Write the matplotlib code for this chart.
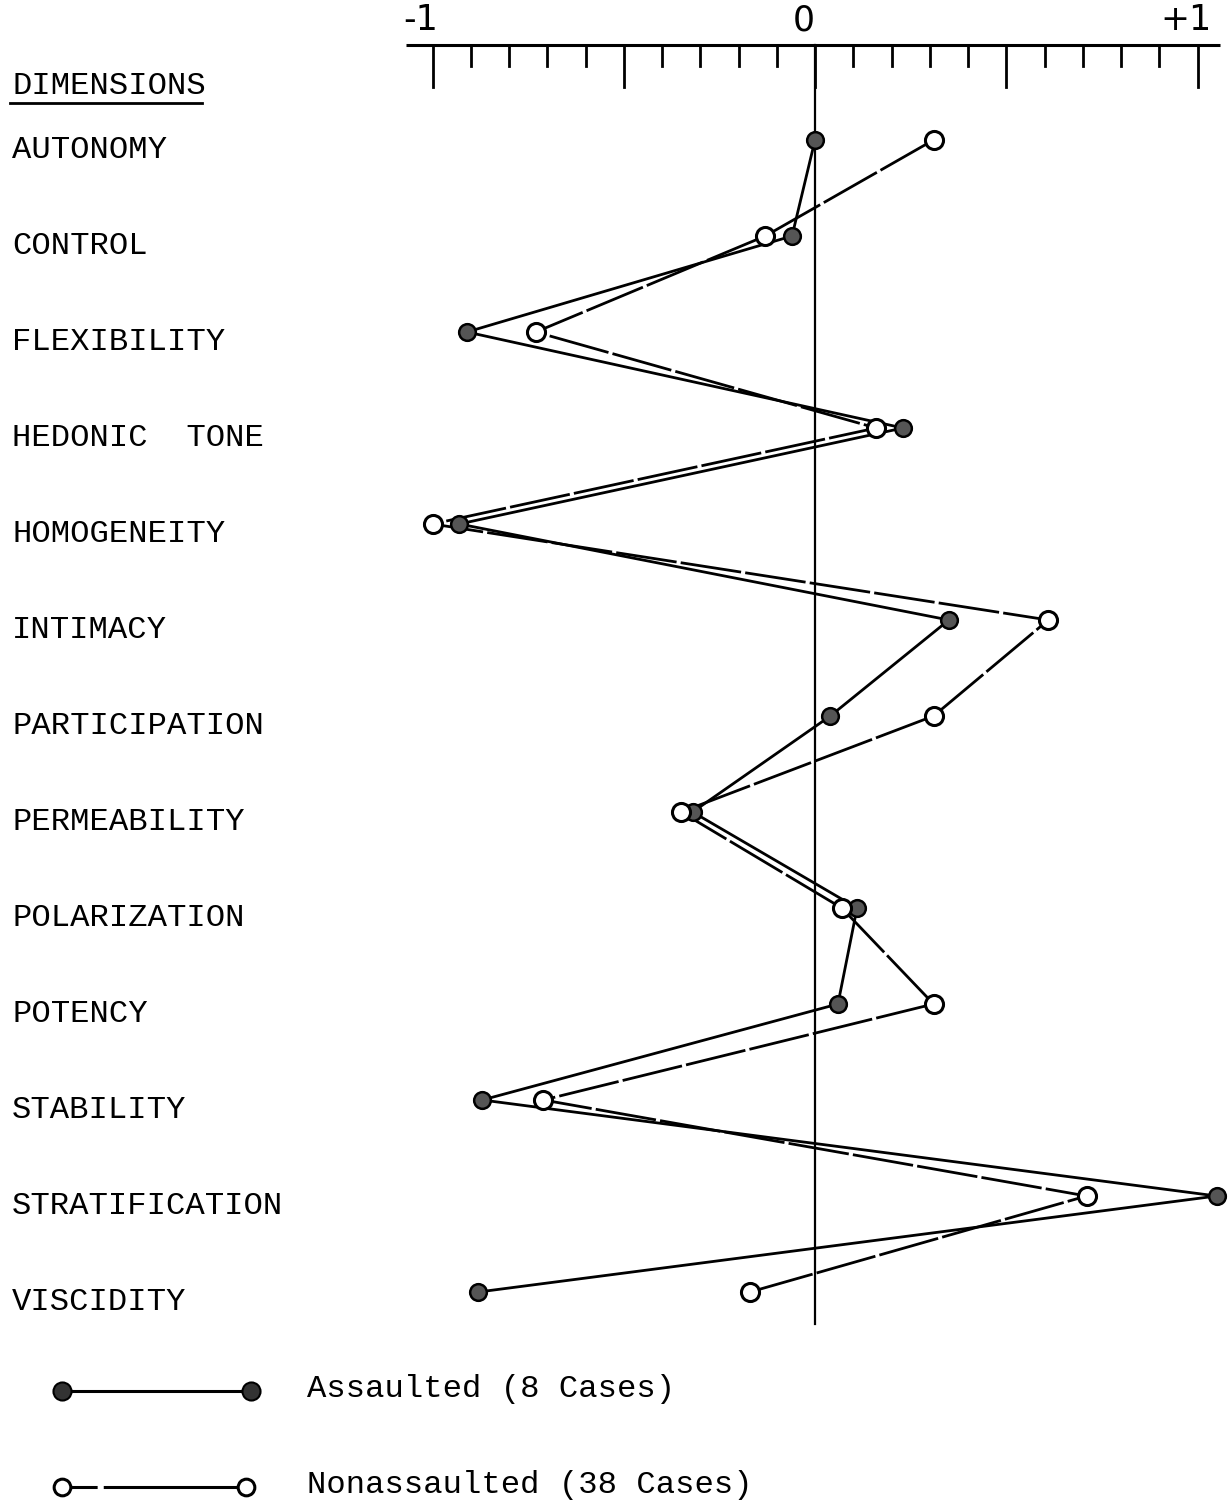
import matplotlib.pyplot as plt
import numpy as np

dimensions = ["AUTONOMY", "CONTROL", "FLEXIBILITY", "HEDONIC  TONE", "HOMOGENEITY",
              "INTIMACY", "PARTICIPATION", "PERMEABILITY", "POLARIZATION", "POTENCY",
              "STABILITY", "STRATIFICATION", "VISCIDITY"]
assaulted = [0.00, -0.06, -0.91, 0.23, -0.93, 0.35, 0.04, -0.32, 0.11, 0.06, -0.87, 1.05, -0.88]
nonassaulted = [0.31, -0.13, -0.73, 0.16, -1.00, 0.61, 0.31, -0.35, 0.07, 0.31, -0.71, 0.71, -0.17]
major_ticks = [-1, -0.5, 0, 0.5, 1]
minor_ticks = np.round(np.arange(-1, 1.01, 0.1), 1)
tick_labels = {-1: "-1", 0: "0", 1: "+1"}

mono = "Liberation Mono"
fs = 23.2

fig = plt.figure(figsize=(12.28, 15.01), dpi=100)
ax = fig.add_axes([0, 0, 1, 1])
x0 = -815 / 382.5
ax.set_xlim(x0, 413 / 382.5)
ax.set_ylim((1501 - 140) / 96, -140 / 96)
ax.axis("off")

rows = np.arange(len(dimensions))

# scale along the top
axis_y = -0.99
ax.plot([-1.07, 1.06], [axis_y, axis_y], color="black", lw=2.2, solid_capstyle="butt")
for t in minor_ticks:
    length = 0.44 if t in major_ticks else 0.22
    ax.plot([t, t], [axis_y, axis_y + length], color="black", lw=2)
for t, s in tick_labels.items():
    ax.text(t - 0.03, axis_y - 0.08, s, fontsize=25, ha="center", va="bottom",
            family="DejaVu Sans")

# zero reference line
ax.plot([0, 0], [axis_y, rows[-1] + 0.33], color="black", lw=1.6)

# row labels
ax.text(x0 + 12 / 382.5, -0.56, "DIMENSIONS", fontsize=fs, family=mono,
        va="center", ha="left")
ax.plot([x0 + 10 / 382.5, x0 + 202 / 382.5], [-0.39, -0.39], color="black", lw=2)
for r, name in zip(rows, dimensions):
    ax.text(x0 + 12 / 382.5, r + 0.1, name, fontsize=fs, family=mono,
            va="center", ha="left")

# profiles
ax.plot(nonassaulted, rows, color="black", lw=2, dashes=(22, 1.5), zorder=2)
ax.plot(assaulted, rows, color="black", lw=2, zorder=2)
ax.plot(assaulted, rows, "o", ms=12, mfc="#555555", mec="black", mew=1.8, zorder=3)
ax.plot(nonassaulted, rows, "o", ms=13, mfc="white", mec="black", mew=2.2, zorder=4)

# key
ax.plot([0.0505, 0.2044], [0.0735, 0.0735], transform=ax.transAxes, color="black",
        lw=2.2, marker="o", ms=13, mfc="#333333", mec="black", mew=1.5)
ax.plot([0.0505, 0.2005], [0.0093, 0.0093], transform=ax.transAxes, color="black",
        lw=2.2, dashes=(11.5, 2, 100, 2), marker="o", ms=12, mfc="white", mec="black",
        mew=2.2)
ax.text(0.25, 0.0745, "Assaulted (8 Cases)", transform=ax.transAxes, fontsize=fs,
        family=mono, va="center", ha="left")
ax.text(0.25, 0.0105, "Nonassaulted (38 Cases)", transform=ax.transAxes, fontsize=fs,
        family=mono, va="center", ha="left")

fig.savefig("out.png", dpi=100)
